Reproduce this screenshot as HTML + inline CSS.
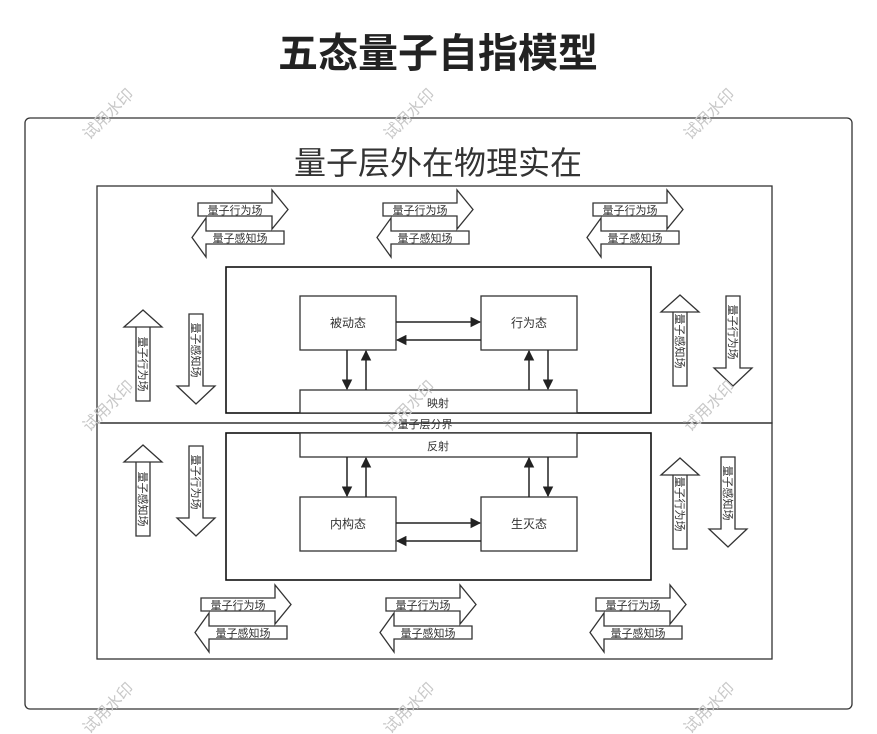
<!DOCTYPE html>
<html><head><meta charset="utf-8"><style>
html,body{margin:0;padding:0;background:#fff;}
svg{display:block;font-family:"Liberation Sans","Noto Sans CJK SC",sans-serif;}
</style></head><body>
<svg width="877" height="734" viewBox="0 0 877 734" xmlns="http://www.w3.org/2000/svg">
<defs>
<g id="ra"><polygon points="0,0 74,0 74,-13 90,6.5 74,26 74,13 0,13" fill="#fff" stroke="#333" stroke-width="1.3"/></g>
<g id="la"><polygon points="0,0 78,0 78,13 0,13 0,26 -14,6.5 0,-13" fill="#fff" stroke="#333" stroke-width="1.3"/></g>
<g id="ua"><polygon points="0,0 14,0 14,74 0,74 0,0 -12,0 7,-17 26,0 14,0" fill="#fff" stroke="#333" stroke-width="1.3"/></g>
<g id="da"><polygon points="0,0 14,0 14,72 26,72 7,90 -12,72 0,72" fill="#fff" stroke="#333" stroke-width="1.3"/></g>
<marker id="ah" viewBox="0 0 10 10" refX="9" refY="5" markerWidth="7" markerHeight="7" orient="auto"><path d="M0,0 L10,5 L0,10 z" fill="#222"/></marker>
</defs>
<text x="438" y="67" font-size="40" font-weight="bold" text-anchor="middle" fill="#222">五态量子自指模型</text>
<rect x="25" y="118" width="827" height="591" rx="5" fill="none" stroke="#333" stroke-width="1.3"/>
<text x="438" y="174" font-size="32" text-anchor="middle" fill="#333">量子层外在物理实在</text>
<rect x="97" y="186" width="675" height="237" fill="none" stroke="#333" stroke-width="1.3"/>
<rect x="97" y="423" width="675" height="236" fill="none" stroke="#333" stroke-width="1.3"/>
<rect x="226" y="267" width="425" height="146" fill="none" stroke="#111" stroke-width="1.6"/>
<rect x="226" y="433" width="425" height="147" fill="none" stroke="#111" stroke-width="1.6"/>
<rect x="300" y="390" width="277" height="23" fill="#fff" stroke="#333" stroke-width="1.3"/>
<text x="438" y="407" font-size="11" text-anchor="middle" fill="#333">映射</text>
<rect x="300" y="433" width="277" height="24" fill="#fff" stroke="#333" stroke-width="1.3"/>
<text x="438" y="450" font-size="11" text-anchor="middle" fill="#333">反射</text>
<text x="425" y="428" font-size="11" text-anchor="middle" fill="#333">量子层分界</text>
<g fill="#fff" stroke="#333" stroke-width="1.3">
<rect x="300" y="296" width="96" height="54"/><rect x="481" y="296" width="96" height="54"/>
<rect x="300" y="497" width="96" height="54"/><rect x="481" y="497" width="96" height="54"/>
</g>
<g font-size="12" text-anchor="middle" fill="#333">
<text x="348" y="327">被动态</text><text x="529" y="327">行为态</text>
<text x="348" y="528">内构态</text><text x="529" y="528">生灭态</text>
</g>
<g stroke="#222" stroke-width="1.5" marker-end="url(#ah)">
<line x1="396" y1="322" x2="480" y2="322"/><line x1="481" y1="340" x2="397" y2="340"/>
<line x1="396" y1="523" x2="480" y2="523"/><line x1="481" y1="541" x2="397" y2="541"/>
<line x1="347" y1="350" x2="347" y2="389"/><line x1="366" y1="390" x2="366" y2="351"/>
<line x1="529" y1="390" x2="529" y2="351"/><line x1="548" y1="350" x2="548" y2="389"/>
<line x1="347" y1="457" x2="347" y2="496"/><line x1="366" y1="497" x2="366" y2="458"/>
<line x1="529" y1="497" x2="529" y2="458"/><line x1="548" y1="457" x2="548" y2="496"/>
</g>
<g font-size="11" fill="#333" text-anchor="middle">
<use href="#ra" x="198" y="203"/><text x="235" y="214">量子行为场</text>
<use href="#la" x="206" y="231"/><text x="240" y="242">量子感知场</text>
<use href="#ra" x="383" y="203"/><text x="420" y="214">量子行为场</text>
<use href="#la" x="391" y="231"/><text x="425" y="242">量子感知场</text>
<use href="#ra" x="593" y="203"/><text x="630" y="214">量子行为场</text>
<use href="#la" x="601" y="231"/><text x="635" y="242">量子感知场</text>
<use href="#ra" x="201" y="598"/><text x="238" y="609">量子行为场</text>
<use href="#la" x="209" y="626"/><text x="243" y="637">量子感知场</text>
<use href="#ra" x="386" y="598"/><text x="423" y="609">量子行为场</text>
<use href="#la" x="394" y="626"/><text x="428" y="637">量子感知场</text>
<use href="#ra" x="596" y="598"/><text x="633" y="609">量子行为场</text>
<use href="#la" x="604" y="626"/><text x="638" y="637">量子感知场</text>
</g>
<use href="#ua" x="136" y="327"/><use href="#da" x="189" y="314"/>
<use href="#ua" x="673" y="312"/><use href="#da" x="726" y="296"/>
<use href="#ua" x="136" y="462"/><use href="#da" x="189" y="446"/>
<use href="#ua" x="673" y="475"/><use href="#da" x="721" y="457"/>
<g font-size="11" fill="#333" text-anchor="middle">
<text transform="translate(139,364) rotate(90)">量子行为场</text>
<text transform="translate(192,350) rotate(90)">量子感知场</text>
<text transform="translate(676,341) rotate(90)">量子感知场</text>
<text transform="translate(729,332) rotate(90)">量子行为场</text>
<text transform="translate(139,499) rotate(90)">量子感知场</text>
<text transform="translate(192,482) rotate(90)">量子行为场</text>
<text transform="translate(676,504) rotate(90)">量子行为场</text>
<text transform="translate(724,493) rotate(90)">量子感知场</text>
</g>
<g font-size="16" fill="#c8c8c8" text-anchor="middle">
<text transform="translate(112,118) rotate(-45)">试用水印</text>
<text transform="translate(413,118) rotate(-45)">试用水印</text>
<text transform="translate(713,118) rotate(-45)">试用水印</text>
<text transform="translate(112,410) rotate(-45)">试用水印</text>
<text transform="translate(413,410) rotate(-45)">试用水印</text>
<text transform="translate(713,410) rotate(-45)">试用水印</text>
<text transform="translate(112,712) rotate(-45)">试用水印</text>
<text transform="translate(413,712) rotate(-45)">试用水印</text>
<text transform="translate(713,712) rotate(-45)">试用水印</text>
</g>
</svg>
</body></html>
